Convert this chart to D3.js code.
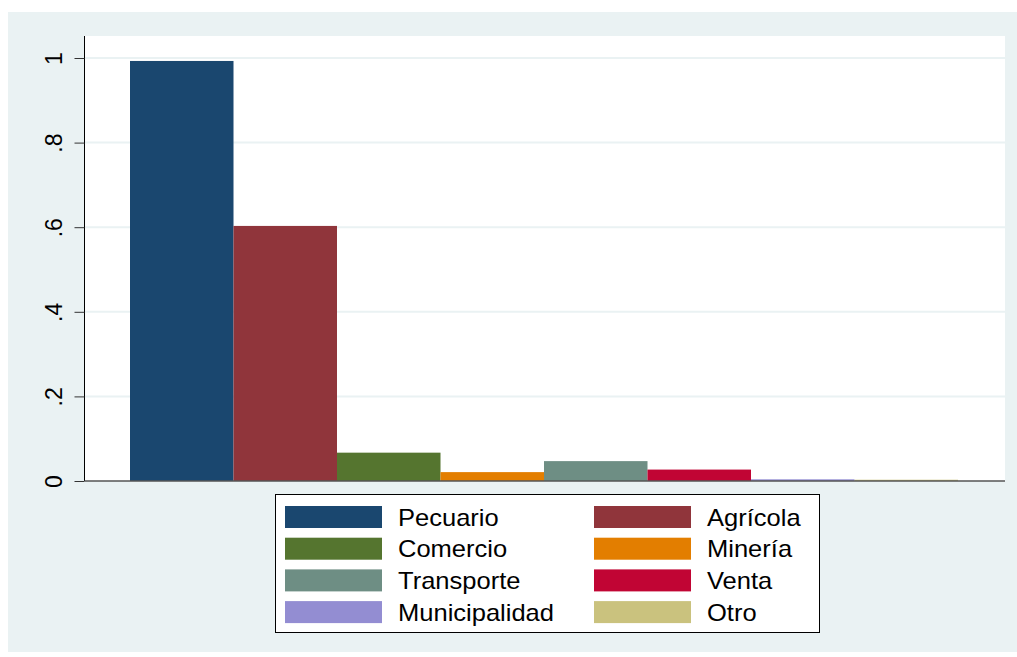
<!DOCTYPE html>
<html>
<head>
<meta charset="utf-8">
<script src="https://cdn.jsdelivr.net/npm/d3@7"></script>
<style>
body { margin: 0; background: #fff; }
text { font-family: "Liberation Sans", Arial, sans-serif; }
</style>
</head>
<body>
<svg id="chart" width="1017" height="657"></svg>
<script>
var categories = ["Pecuario", "Agrícola", "Comercio", "Minería", "Transporte", "Venta", "Municipalidad", "Otro"];
var values = [0.993, 0.603, 0.067, 0.021, 0.047, 0.027, 0.004, 0.003];
var colors = ["#1a476f", "#90353b", "#55752f", "#e37e00", "#6e8e84", "#c10534", "#938dd2", "#cac27e"];
var yTicks = [0, 0.2, 0.4, 0.6, 0.8, 1];
var yTickLabels = ["0", ".2", ".4", ".6", ".8", "1"];

var svg = d3.select("#chart");

// stata-like outer background
svg.append("rect")
    .attr("x", 8).attr("y", 12)
    .attr("width", 1009).attr("height", 640)
    .attr("fill", "#eaf2f3");

var pLeft = 84.5, pRight = 1005, pTop = 36, pBottom = 481;

svg.append("rect")
    .attr("x", pLeft).attr("y", pTop)
    .attr("width", pRight - pLeft).attr("height", pBottom - pTop)
    .attr("fill", "#fff");

var x = d3.scaleBand()
    .domain(categories)
    .range([130, 958])
    .padding(0);

var y = d3.scaleLinear()
    .domain([0, 1])
    .range([pBottom, 58]);

// grid
svg.append("g").selectAll("line")
    .data(yTicks.slice(1))
    .enter().append("line")
    .attr("x1", pLeft).attr("x2", pRight)
    .attr("y1", function(d) { return y(d); })
    .attr("y2", function(d) { return y(d); })
    .attr("stroke", "#eaf2f3")
    .attr("stroke-width", 2);

// bars
svg.append("g").selectAll("rect")
    .data(categories)
    .enter().append("rect")
    .attr("x", function(d) { return x(d); })
    .attr("y", function(d, i) { return y(values[i]); })
    .attr("width", x.bandwidth())
    .attr("height", function(d, i) { return pBottom - y(values[i]); })
    .attr("fill", function(d, i) { return colors[i]; });

// y axis
var yAxis = d3.axisLeft(y)
    .tickValues(yTicks)
    .tickFormat(function(d, i) { return yTickLabels[i]; })
    .tickSize(10);

var ga = svg.append("g")
    .attr("transform", "translate(" + pLeft + ",0)")
    .call(yAxis);
ga.select(".domain").attr("d", "M0," + pTop + "V" + pBottom).attr("stroke", "#000");
ga.selectAll(".tick line").attr("stroke", "#333");
ga.selectAll(".tick text")
    .attr("font-size", 23)
    .attr("fill", "#000")
    .attr("transform", "rotate(-90)")
    .attr("x", 0)
    .attr("y", -31)
    .attr("dy", "0.35em")
    .attr("text-anchor", "middle");

// baseline
svg.append("line")
    .attr("x1", pLeft).attr("x2", pRight)
    .attr("y1", pBottom).attr("y2", pBottom)
    .attr("stroke", "#555").attr("stroke-width", 1.5);

// legend
var leg = svg.append("g");
leg.append("rect")
    .attr("x", 275.5).attr("y", 494.5)
    .attr("width", 544).attr("height", 138)
    .attr("fill", "#fff").attr("stroke", "#000");

var item = leg.selectAll(".item")
    .data(categories)
    .enter().append("g")
    .attr("class", "item")
    .attr("transform", function(d, i) {
        return "translate(" + (i % 2 === 0 ? 285 : 594) + "," + (506 + Math.floor(i / 2) * 31.7) + ")";
    });

item.append("rect")
    .attr("width", 97).attr("height", 22)
    .attr("fill", function(d, i) { return colors[i]; });

item.append("text")
    .attr("transform", "translate(113,11) scale(1.11,1)")
    .attr("dy", "0.37em")
    .attr("font-size", 23)
    .text(function(d) { return d; });
</script>
</body>
</html>
